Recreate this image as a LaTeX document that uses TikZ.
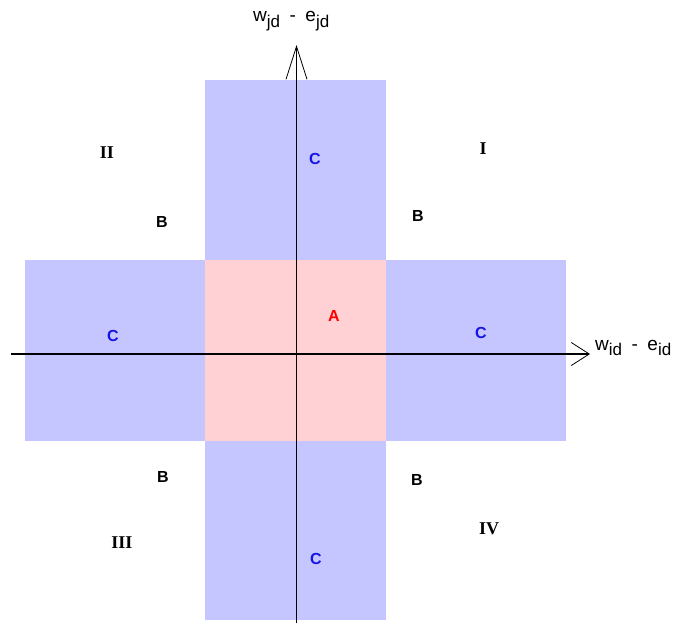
\documentclass[tikz,border=0pt]{standalone}
\usepackage{fontspec}
\setmainfont{Liberation Serif}
\setsansfont{Liberation Sans}
\usetikzlibrary{arrows.meta}
\definecolor{bandblue}{RGB}{197,197,255}
\definecolor{corepink}{RGB}{255,208,212}
\definecolor{labelblue}{RGB}{20,20,230}
\tikzset{
  band/.style={fill=bandblue, draw=none},
  core/.style={fill=corepink, draw=none},
  axis/.style={line width=1.6pt, draw=black},
  quad/.style={font=\fontsize{18}{20}\selectfont\bfseries},
  zone/.style={font=\sffamily\fontsize{16}{18}\selectfont\bfseries},
  zonec/.style={zone, text=labelblue},
  zonea/.style={zone, text=red},
  axlabel/.style={font=\sffamily\fontsize{19}{21}\selectfont, inner sep=0pt},
}
\newcommand{\subjd}[1]{\raisebox{-0.55ex}{\fontsize{17}{19}\selectfont #1}}
\begin{document}
\begin{tikzpicture}[x=1pt, y=-1pt]
  \useasboundingbox (0,0) rectangle (676,623);
  % regions
  \fill[band] (205,80) rectangle (386,620);
  \fill[band] (25,260) rectangle (566,441);
  \fill[core] (205,260) rectangle (386,441);

  % axes
  \coordinate (xfrom) at (11,354);
  \coordinate (xto) at (590,354);
  \coordinate (yfrom) at (296.5,623);
  \coordinate (yto) at (296.5,45);
  \draw[axis, -{Straight Barb[length=18pt, width=23pt, line width=0.8pt]}] (xfrom) -- (xto);
  \draw[axis, -{Straight Barb[length=33pt, width=21pt, line width=0.8pt]}] (yfrom) -- (yto);

  \node[axlabel, anchor=base west] (xlab) at (595,350) {w\subjd{id}\enspace-\enspace e\subjd{id}};
  \node[axlabel, anchor=base west] (ylab) at (253,22) {w\subjd{jd}\enspace-\enspace e\subjd{jd}};

  % quadrants
  \node[quad] (qI) at (483,149) {I};
  \node[quad] (qII) at (107,153) {II};
  \node[quad] (qIII) at (122,543) {III};
  \node[quad] (qIV) at (489,529) {IV};

  % zones
  \node[zone] (bII) at (162,222) {B};
  \node[zone] (bI) at (418,216) {B};
  \node[zone] (bIII) at (163,477) {B};
  \node[zone] (bIV) at (417,480) {B};
  \node[zonec] (cup) at (315,159) {C};
  \node[zonec] (cleft) at (113,336) {C};
  \node[zonec] (cright) at (481,333) {C};
  \node[zonec] (cdown) at (316,559) {C};
  \node[zonea] (acore) at (334,316) {A};
\end{tikzpicture}
\end{document}
